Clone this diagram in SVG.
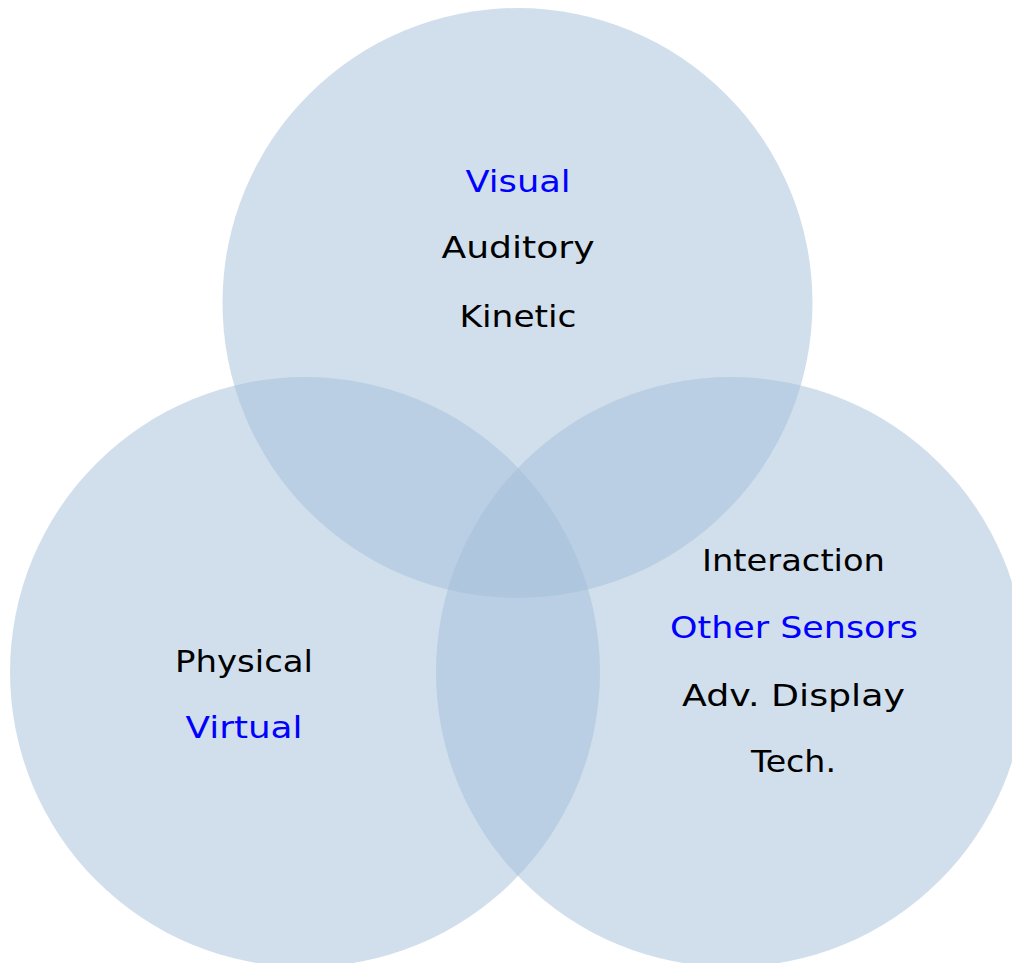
<svg xmlns="http://www.w3.org/2000/svg" width="1012" height="963" viewBox="0 0 1012 963">
<style>
.c{fill:#a3bfd9;fill-opacity:0.5;}
text{font-family:"DejaVu Sans","Liberation Sans",sans-serif;font-size:31px;text-anchor:middle;fill:#000;}
.b{fill:#0000ff;}
</style>
<rect width="1012" height="963" fill="#ffffff"/>
<g id="circle-top"><circle class="c" cx="517.5" cy="303" r="295"/></g>
<g id="circle-left"><circle class="c" cx="305" cy="672" r="295"/></g>
<g id="circle-right"><circle class="c" cx="731" cy="672" r="295"/></g>
<g id="label-top">
<text class="b" x="518" y="192" textLength="105" lengthAdjust="spacingAndGlyphs">Visual</text>
<text x="518" y="258" textLength="153" lengthAdjust="spacingAndGlyphs">Auditory</text>
<text x="518" y="327" textLength="117" lengthAdjust="spacingAndGlyphs">Kinetic</text>
</g>
<g id="label-left">
<text x="244" y="672" textLength="138" lengthAdjust="spacingAndGlyphs">Physical</text>
<text class="b" x="244" y="738" textLength="117" lengthAdjust="spacingAndGlyphs">Virtual</text>
</g>
<g id="label-right">
<text x="793.5" y="571" textLength="183" lengthAdjust="spacingAndGlyphs">Interaction</text>
<text class="b" x="794" y="638" textLength="248" lengthAdjust="spacingAndGlyphs">Other Sensors</text>
<text x="793.5" y="706" textLength="223" lengthAdjust="spacingAndGlyphs">Adv. Display</text>
<text x="793.5" y="772" textLength="85" lengthAdjust="spacingAndGlyphs">Tech.</text>
</g>
</svg>
